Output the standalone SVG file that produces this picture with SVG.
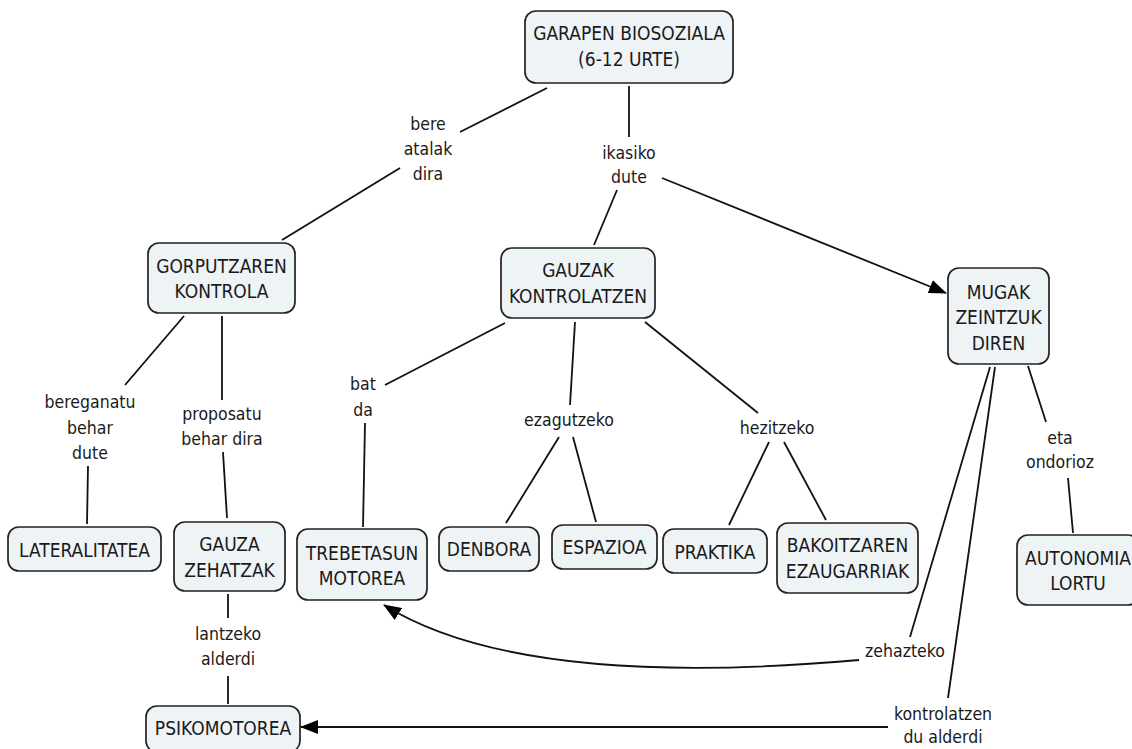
<svg xmlns="http://www.w3.org/2000/svg" width="1132" height="749" viewBox="0 0 1132 749">
<defs>
<style>
.n rect{fill:#eef3f6;stroke:#222;stroke-width:1.7}
.n text{font-family:"DejaVu Sans Condensed","DejaVu Sans","Liberation Sans",sans-serif;font-stretch:condensed;font-size:19px;fill:#1a1a1a;text-anchor:middle}
.l text{font-family:"DejaVu Sans Condensed","DejaVu Sans","Liberation Sans",sans-serif;font-stretch:condensed;font-size:17.5px;fill:#1a1a1a;text-anchor:middle}
.c line,.c path{stroke:#111;stroke-width:1.8;fill:none}
</style>
<marker id="ah" markerUnits="userSpaceOnUse" markerWidth="18" markerHeight="14" refX="17" refY="7" orient="auto">
<path d="M0,0 L18,7 L0,14 Z" fill="#000"/>
</marker>
</defs>
<rect width="1132" height="749" fill="#fff"/>
<g class="c" id="connectors">
<line x1="547" y1="88" x2="460" y2="132"/>
<line x1="400" y1="168" x2="282" y2="240"/>
<line x1="629" y1="86" x2="629" y2="137"/>
<line x1="617" y1="190" x2="594" y2="245"/>
<line x1="662" y1="178" x2="946" y2="293" marker-end="url(#ah)"/>
<line x1="184" y1="316" x2="125" y2="385"/>
<line x1="88" y1="466" x2="87" y2="524"/>
<line x1="222" y1="316" x2="222" y2="400"/>
<line x1="223" y1="452" x2="227" y2="518"/>
<line x1="505" y1="323" x2="385" y2="385"/>
<line x1="365" y1="423" x2="363" y2="527"/>
<line x1="575" y1="322" x2="570" y2="405"/>
<line x1="559" y1="437" x2="506" y2="523"/>
<line x1="573" y1="437" x2="596" y2="522"/>
<line x1="645" y1="322" x2="758" y2="413"/>
<line x1="769" y1="442" x2="729" y2="525"/>
<line x1="784" y1="442" x2="826" y2="520"/>
<line x1="1028" y1="366" x2="1046" y2="422"/>
<line x1="1068" y1="478" x2="1073" y2="533"/>
<line x1="990" y1="367" x2="910" y2="637"/>
<line x1="995" y1="367" x2="948" y2="698"/>
<path d="M859,660 Q520,690 384,605" marker-end="url(#ah)"/>
<line x1="888" y1="727" x2="301" y2="727" marker-end="url(#ah)"/>
<line x1="228" y1="594" x2="228" y2="618"/>
<line x1="228" y1="676" x2="228" y2="704"/>
</g>
<g class="l" id="labels">
<text x="428" y="130">bere</text><text x="428" y="155">atalak</text><text x="428" y="180">dira</text>
<text x="629" y="159">ikasiko</text><text x="629" y="183">dute</text>
<text x="90" y="408">bereganatu</text><text x="90" y="434">behar</text><text x="90" y="459">dute</text>
<text x="222" y="420">proposatu</text><text x="222" y="445">behar dira</text>
<text x="363" y="390">bat</text><text x="363" y="416">da</text>
<text x="569" y="426">ezagutzeko</text>
<text x="777" y="434">hezitzeko</text>
<text x="1060" y="444">eta</text><text x="1060" y="468">ondorioz</text>
<text x="905" y="657">zehazteko</text>
<text x="943" y="720">kontrolatzen</text><text x="943" y="743">du alderdi</text>
<text x="228" y="640">lantzeko</text><text x="228" y="665">alderdi</text>
</g>
<g class="n" id="n-garapen"><rect x="525" y="11" width="208" height="72" rx="11"/><text x="629" y="40">GARAPEN BIOSOZIALA</text><text x="629" y="66">(6-12 URTE)</text></g>
<g class="n" id="n-gorputz"><rect x="148" y="243" width="147" height="70" rx="11"/><text x="221.5" y="273">GORPUTZAREN</text><text x="221.5" y="298">KONTROLA</text></g>
<g class="n" id="n-gauzak"><rect x="501" y="248" width="154" height="70" rx="11"/><text x="578" y="277">GAUZAK</text><text x="578" y="303">KONTROLATZEN</text></g>
<g class="n" id="n-mugak"><rect x="948" y="268" width="101" height="96" rx="11"/><text x="998.5" y="299">MUGAK</text><text x="998.5" y="324">ZEINTZUK</text><text x="998.5" y="350">DIREN</text></g>
<g class="n" id="n-lateral"><rect x="8" y="527" width="153" height="44" rx="11"/><text x="84.5" y="557">LATERALITATEA</text></g>
<g class="n" id="n-gauzazeh"><rect x="174" y="522" width="111" height="69" rx="11"/><text x="229.5" y="551">GAUZA</text><text x="229.5" y="577">ZEHATZAK</text></g>
<g class="n" id="n-trebet"><rect x="297" y="529" width="130" height="71" rx="11"/><text x="362" y="560">TREBETASUN</text><text x="362" y="585">MOTOREA</text></g>
<g class="n" id="n-denbora"><rect x="439" y="527" width="100" height="44" rx="11"/><text x="489" y="556">DENBORA</text></g>
<g class="n" id="n-espazioa"><rect x="552" y="525" width="105" height="44" rx="11"/><text x="604.5" y="554">ESPAZIOA</text></g>
<g class="n" id="n-praktika"><rect x="663" y="529" width="104" height="44" rx="11"/><text x="715" y="559">PRAKTIKA</text></g>
<g class="n" id="n-bakoitz"><rect x="777" y="523" width="141" height="70" rx="11"/><text x="847.5" y="552">BAKOITZAREN</text><text x="847.5" y="578">EZAUGARRIAK</text></g>
<g class="n" id="n-autonomia"><rect x="1017" y="535" width="122" height="70" rx="11"/><text x="1078" y="565">AUTONOMIA</text><text x="1078" y="590">LORTU</text></g>
<g class="n" id="n-psiko"><rect x="146" y="706" width="154" height="46" rx="11"/><text x="223" y="735">PSIKOMOTOREA</text></g>
</svg>
